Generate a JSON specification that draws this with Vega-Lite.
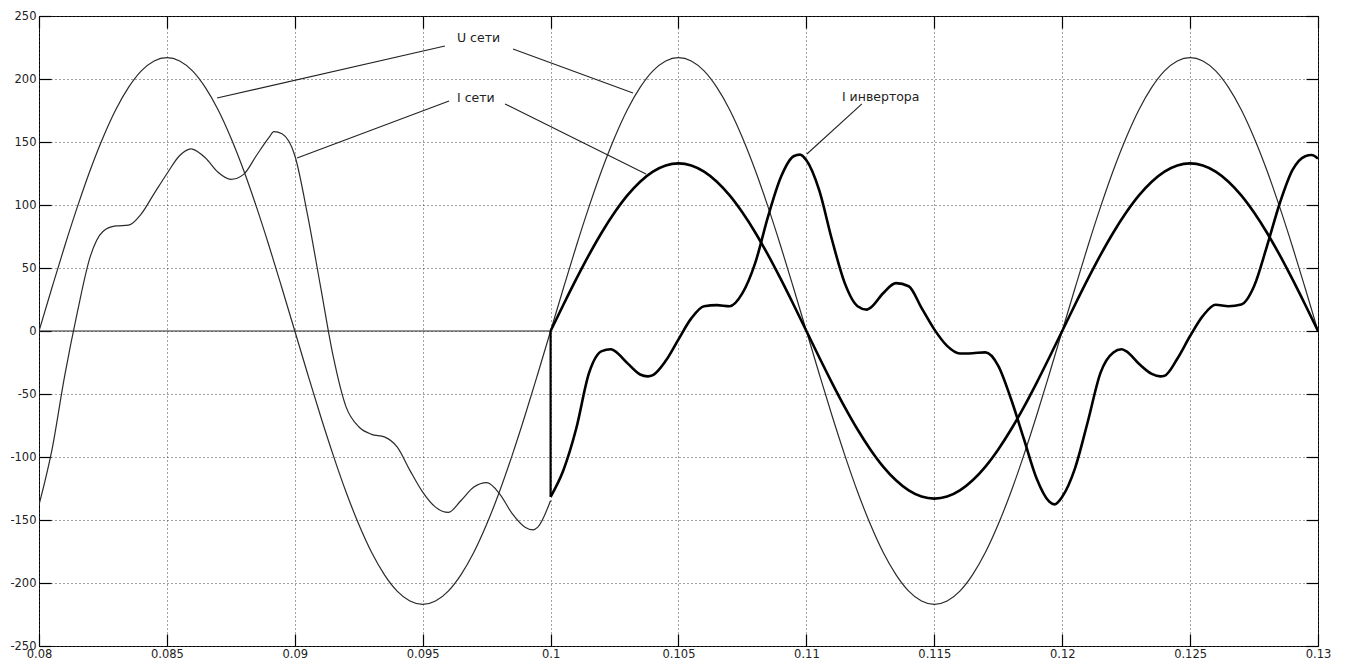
{
  "$schema": "https://vega.github.io/schema/vega-lite/v6.json",
  "width": 1279,
  "height": 630,
  "autosize": {"type": "none"},
  "padding": {"left": 39, "top": 16, "right": 27, "bottom": 16},
  "background": "white",
  "config": {
    "view": {"stroke": "#000", "strokeWidth": 1},
    "axis": {
      "labelFont": "DejaVu Sans",
      "labelFontSize": 11.5,
      "labelColor": "#222",
      "tickColor": "#000",
      "tickWidth": 1.2,
      "tickSize": -12,
      "domain": false,
      "title": null,
      "gridColor": "#444",
      "gridDash": [1, 3],
      "gridOpacity": 1,
      "gridWidth": 1
    }
  },
  "datasets": {
    "curves": [
      {"t": 0.08, "u": 0, "il": -138, "z": 0},
      {"t": 0.0805, "u": 33.9, "il": -95},
      {"t": 0.081, "u": 67.1, "il": -36},
      {"t": 0.0815, "u": 98.5, "il": 15},
      {"t": 0.082, "u": 127.6, "il": 58.8},
      {"t": 0.0825, "u": 153.4, "il": 79},
      {"t": 0.083, "u": 175.6, "il": 83.4},
      {"t": 0.0835, "u": 193.3, "il": 84},
      {"t": 0.084, "u": 206.4, "il": 93},
      {"t": 0.0845, "u": 214.3, "il": 109},
      {"t": 0.085, "u": 217, "il": 124.8},
      {"t": 0.0855, "u": 214.3, "il": 139.3},
      {"t": 0.08594, "il": 144.6},
      {"t": 0.086, "u": 206.4, "il": 144.3},
      {"t": 0.0865, "u": 193.3, "il": 137.5},
      {"t": 0.087, "u": 175.6, "il": 126},
      {"t": 0.0875, "u": 153.4, "il": 120.3},
      {"t": 0.088, "u": 127.6, "il": 124.3},
      {"t": 0.0885, "u": 98.5, "il": 139.3},
      {"t": 0.089, "u": 67.1, "il": 153.8},
      {"t": 0.08918, "il": 158.3},
      {"t": 0.0895, "u": 33.9, "il": 156.5},
      {"t": 0.09, "u": 0, "il": 139.3},
      {"t": 0.0905, "u": -33.9, "il": 92},
      {"t": 0.091, "u": -67.1, "il": 36},
      {"t": 0.0915, "u": -98.5, "il": -20},
      {"t": 0.092, "u": -127.6, "il": -60},
      {"t": 0.0925, "u": -153.4, "il": -76},
      {"t": 0.093, "u": -175.6, "il": -82},
      {"t": 0.0935, "u": -193.3, "il": -84},
      {"t": 0.094, "u": -206.4, "il": -92},
      {"t": 0.0945, "u": -214.3, "il": -110.6},
      {"t": 0.095, "u": -217, "il": -127.9},
      {"t": 0.0955, "u": -214.3, "il": -139.8},
      {"t": 0.096, "u": -206.4, "il": -144},
      {"t": 0.0965, "u": -193.3, "il": -134.5},
      {"t": 0.097, "u": -175.6, "il": -123.9},
      {"t": 0.0975, "u": -153.4, "il": -120.4},
      {"t": 0.098, "u": -127.6, "il": -129},
      {"t": 0.0985, "u": -98.5, "il": -145},
      {"t": 0.099, "u": -67.1, "il": -155.7},
      {"t": 0.09932, "il": -157.8},
      {"t": 0.0995, "u": -33.9, "il": -155.7},
      {"t": 0.1, "u": 0, "il": -134.5, "z": 0, "ig": 0, "ii": -131.6},
      {"t": 0.1005, "u": 33.9, "ig": 20.8, "ii": -110.5},
      {"t": 0.101, "u": 67.1, "ig": 41.1, "ii": -77.6},
      {"t": 0.1015, "u": 98.5, "ig": 60.4, "ii": -33.5},
      {"t": 0.102, "u": 127.6, "ig": 78.2, "ii": -16},
      {"t": 0.10235, "ii": -14.5},
      {"t": 0.1025, "u": 153.4, "ig": 94.0, "ii": -15.8},
      {"t": 0.103, "u": 175.6, "ig": 107.6, "ii": -25.5},
      {"t": 0.1035, "u": 193.3, "ig": 118.5, "ii": -34.5},
      {"t": 0.1038, "ii": -36},
      {"t": 0.104, "u": 206.4, "ig": 126.5, "ii": -35},
      {"t": 0.1045, "u": 214.3, "ig": 131.4, "ii": -23.7},
      {"t": 0.105, "u": 217, "ig": 133, "ii": -6.6},
      {"t": 0.1055, "u": 214.3, "ig": 131.4, "ii": 10},
      {"t": 0.106, "u": 206.4, "ig": 126.5, "ii": 19.7},
      {"t": 0.1065, "u": 193.3, "ig": 118.5, "ii": 20.5},
      {"t": 0.107, "u": 175.6, "ig": 107.6, "ii": 19.7},
      {"t": 0.1075, "u": 153.4, "ig": 94.0, "ii": 30},
      {"t": 0.108, "u": 127.6, "ig": 78.2, "ii": 54},
      {"t": 0.1085, "u": 98.5, "ig": 60.4, "ii": 90.8},
      {"t": 0.109, "u": 67.1, "ig": 41.1, "ii": 122},
      {"t": 0.1095, "u": 33.9, "ig": 20.8, "ii": 138.7},
      {"t": 0.10975, "ii": 140},
      {"t": 0.11, "u": 0, "ig": 0, "ii": 135.5},
      {"t": 0.1105, "u": -33.9, "ig": -20.8, "ii": 111.8},
      {"t": 0.111, "u": -67.1, "ig": -41.1, "ii": 72.4},
      {"t": 0.1115, "u": -98.5, "ig": -60.4, "ii": 38},
      {"t": 0.112, "u": -127.6, "ig": -78.2, "ii": 19.7},
      {"t": 0.11236, "ii": 17},
      {"t": 0.1125, "u": -153.4, "ig": -94.0, "ii": 18.4},
      {"t": 0.113, "u": -175.6, "ig": -107.6, "ii": 30},
      {"t": 0.1135, "u": -193.3, "ig": -118.5, "ii": 38},
      {"t": 0.114, "u": -206.4, "ig": -126.5, "ii": 35.5},
      {"t": 0.1145, "u": -214.3, "ig": -131.4, "ii": 18.4},
      {"t": 0.115, "u": -217, "ig": -133, "ii": 1.3},
      {"t": 0.1155, "u": -214.3, "ig": -131.4, "ii": -11.8},
      {"t": 0.116, "u": -206.4, "ig": -126.5, "ii": -17.9},
      {"t": 0.1165, "u": -193.3, "ig": -118.5, "ii": -17.6},
      {"t": 0.117, "u": -175.6, "ig": -107.6, "ii": -17},
      {"t": 0.1175, "u": -153.4, "ig": -94.0, "ii": -27.6},
      {"t": 0.118, "u": -127.6, "ig": -78.2, "ii": -54},
      {"t": 0.1185, "u": -98.5, "ig": -60.4, "ii": -85.5},
      {"t": 0.119, "u": -67.1, "ig": -41.1, "ii": -117},
      {"t": 0.1195, "u": -33.9, "ig": -20.8, "ii": -135.5},
      {"t": 0.1197, "ii": -137.6},
      {"t": 0.12, "u": 0, "ig": 0, "ii": -131.6},
      {"t": 0.1205, "u": 33.9, "ig": 20.8, "ii": -109},
      {"t": 0.121, "u": 67.1, "ig": 41.1, "ii": -72},
      {"t": 0.1215, "u": 98.5, "ig": 60.4, "ii": -33},
      {"t": 0.122, "u": 127.6, "ig": 78.2, "ii": -17},
      {"t": 0.12232, "ii": -14.5},
      {"t": 0.1225, "u": 153.4, "ig": 94.0, "ii": -16},
      {"t": 0.123, "u": 175.6, "ig": 107.6, "ii": -26},
      {"t": 0.1235, "u": 193.3, "ig": 118.5, "ii": -34},
      {"t": 0.12384, "ii": -36},
      {"t": 0.124, "u": 206.4, "ig": 126.5, "ii": -35.5},
      {"t": 0.1245, "u": 214.3, "ig": 131.4, "ii": -22},
      {"t": 0.125, "u": 217, "ig": 133, "ii": -4},
      {"t": 0.1255, "u": 214.3, "ig": 131.4, "ii": 12},
      {"t": 0.126, "u": 206.4, "ig": 126.5, "ii": 20.8},
      {"t": 0.1265, "u": 193.3, "ig": 118.5, "ii": 19.7},
      {"t": 0.127, "u": 175.6, "ig": 107.6, "ii": 21},
      {"t": 0.1275, "u": 153.4, "ig": 94.0, "ii": 35.5},
      {"t": 0.128, "u": 127.6, "ig": 78.2, "ii": 67},
      {"t": 0.1285, "u": 98.5, "ig": 60.4, "ii": 101},
      {"t": 0.129, "u": 67.1, "ig": 41.1, "ii": 127.6},
      {"t": 0.1295, "u": 33.9, "ig": 20.8, "ii": 138.7},
      {"t": 0.12975, "ii": 139.7},
      {"t": 0.13, "u": 0, "ig": 0, "ii": 136.8}
    ],
    "jump": [
      {"t": 0.1, "from": 0, "to": -131.6}
    ],
    "leaders": [
      {"t1": 0.09587, "v1": 226.2, "t2": 0.08696, "v2": 184.9},
      {"t1": 0.09853, "v1": 223.8, "t2": 0.10322, "v2": 188.9},
      {"t1": 0.09603, "v1": 182.5, "t2": 0.09009, "v2": 137.3},
      {"t1": 0.09822, "v1": 180.2, "t2": 0.10373, "v2": 124.6},
      {"t1": 0.11217, "v1": 180.2, "t2": 0.11002, "v2": 140.5}
    ],
    "labels": [
      {"t": 0.09634, "v": 232.5, "label": "U сети"},
      {"t": 0.09634, "v": 184.9, "label": "I сети"},
      {"t": 0.11139, "v": 185.7, "label": "I инвертора"}
    ]
  },
  "layer": [
    {
      "data": {"name": "curves"},
      "transform": [
        {"fold": ["u", "il", "z"], "as": ["s", "v"]},
        {"filter": "isValid(datum.v)"}
      ],
      "mark": {"type": "line", "interpolate": "monotone", "strokeWidth": 1.2, "color": "#2a2a2a", "clip": true},
      "encoding": {
        "x": {
          "field": "t", "type": "quantitative",
          "scale": {"domain": [0.08, 0.13], "nice": false, "zero": false},
          "axis": {
            "orient": "bottom",
            "values": [0.08, 0.085, 0.09, 0.095, 0.1, 0.105, 0.11, 0.115, 0.12, 0.125, 0.13],
            "format": "~g",
            "grid": true,
            "labelPadding": 14,
            "labelFlush": false,
            "labelOverlap": false
          }
        },
        "y": {
          "field": "v", "type": "quantitative",
          "scale": {"domain": [-250, 250], "nice": false, "zero": false},
          "axis": {
            "orient": "left",
            "values": [-250, -200, -150, -100, -50, 0, 50, 100, 150, 200, 250],
            "labelExpr": "datum.value < 0 ? '-' + abs(datum.value) : '' + datum.value",
            "grid": true,
            "labelPadding": 15,
            "labelOverlap": false
          }
        },
        "detail": {"field": "s", "type": "nominal"}
      }
    },
    {
      "data": {"name": "curves"},
      "transform": [
        {"fold": ["ig", "ii"], "as": ["s", "v"]},
        {"filter": "isValid(datum.v)"}
      ],
      "mark": {"type": "line", "interpolate": "monotone", "strokeWidth": 2.6, "color": "#000", "clip": true},
      "encoding": {
        "x": {"field": "t", "type": "quantitative", "scale": {"domain": [0.08, 0.13], "nice": false, "zero": false}, "axis": null},
        "y": {"field": "v", "type": "quantitative", "scale": {"domain": [-250, 250], "nice": false, "zero": false}, "axis": null},
        "detail": {"field": "s", "type": "nominal"}
      }
    },
    {
      "data": {"name": "jump"},
      "mark": {"type": "rule", "strokeWidth": 2.2, "color": "#000"},
      "encoding": {
        "x": {"field": "t", "type": "quantitative", "scale": {"domain": [0.08, 0.13], "nice": false, "zero": false}, "axis": null},
        "y": {"field": "from", "type": "quantitative", "scale": {"domain": [-250, 250], "nice": false, "zero": false}, "axis": null},
        "y2": {"field": "to"}
      }
    },
    {
      "data": {"name": "leaders"},
      "mark": {"type": "rule", "strokeWidth": 1.1, "color": "#222"},
      "encoding": {
        "x": {
          "field": "t1", "type": "quantitative",
          "scale": {"domain": [0.08, 0.13], "nice": false, "zero": false},
          "axis": {
            "orient": "top",
            "values": [0.08, 0.085, 0.09, 0.095, 0.1, 0.105, 0.11, 0.115, 0.12, 0.125, 0.13],
            "labels": false, "grid": false
          }
        },
        "y": {
          "field": "v1", "type": "quantitative",
          "scale": {"domain": [-250, 250], "nice": false, "zero": false},
          "axis": {
            "orient": "right",
            "values": [-250, -200, -150, -100, -50, 0, 50, 100, 150, 200, 250],
            "labels": false, "grid": false
          }
        },
        "x2": {"field": "t2"},
        "y2": {"field": "v2"}
      }
    },
    {
      "data": {"name": "labels"},
      "mark": {"type": "text", "align": "left", "baseline": "middle", "font": "DejaVu Sans", "fontSize": 12.5, "color": "#222"},
      "encoding": {
        "x": {"field": "t", "type": "quantitative", "scale": {"domain": [0.08, 0.13], "nice": false, "zero": false}, "axis": null},
        "y": {"field": "v", "type": "quantitative", "scale": {"domain": [-250, 250], "nice": false, "zero": false}, "axis": null},
        "text": {"field": "label", "type": "nominal"}
      }
    }
  ]
}
